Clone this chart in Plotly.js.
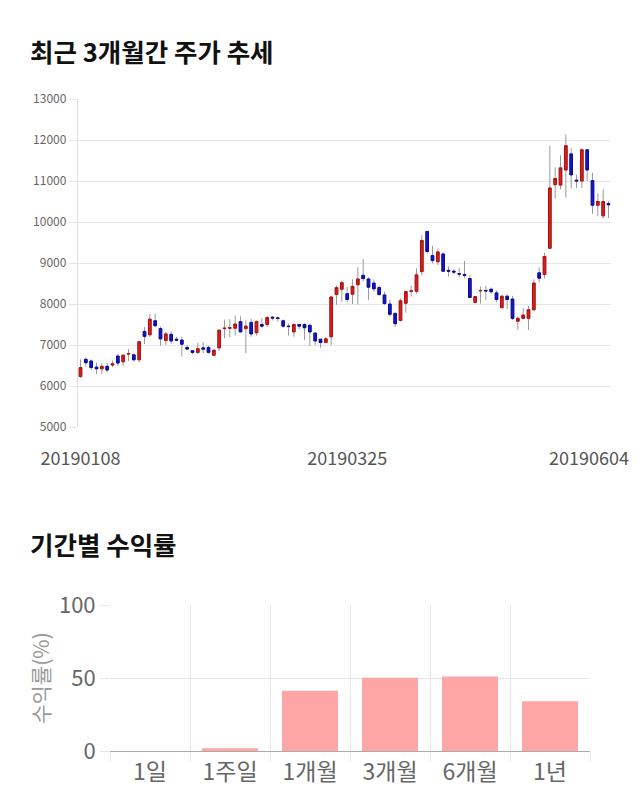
<!DOCTYPE html>
<html>
<head>
<meta charset="utf-8">
<script src="https://cdn.plot.ly/plotly-3.0.1.min.js"></script>
<style>html,body{margin:0;padding:0;background:#fff}#chart{width:640px;height:810px}</style>
</head>
<body>
<div id="chart"></div>
<script>
const dates = ['20190108','20190109','20190110','20190111','20190114','20190115','20190116','20190117','20190118','20190121','20190122','20190123','20190124','20190125','20190128','20190129','20190130','20190131',
'20190201','20190207','20190208','20190211','20190212','20190213','20190214','20190215','20190218','20190219','20190220','20190221','20190222','20190225','20190226','20190227','20190228',
'20190304','20190305','20190306','20190307','20190308','20190311','20190312','20190313','20190314','20190315','20190318','20190319','20190320','20190321','20190322','20190325','20190326','20190327','20190328','20190329',
'20190401','20190402','20190403','20190404','20190405','20190408','20190409','20190410','20190411','20190412','20190415','20190416','20190417','20190418','20190419','20190422','20190423','20190424','20190425','20190426','20190429','20190430',
'20190502','20190503','20190507','20190508','20190509','20190510','20190513','20190514','20190515','20190516','20190517','20190520','20190521','20190522','20190523','20190524','20190527','20190528','20190529','20190530','20190531',
'20190603','20190604'];

const openP = [6230,6650,6610,6460,6420,6480,6510,6730,6590,6780,6760,6640,7330,7250,7590,7400,7110,7260,7140,7120,
6940,6860,6820,6930,6940,6750,6930,7400,7410,7410,7570,7400,7550,7300,7500,7500,7680,7660,7590,7460,
7320,7500,7500,7480,7290,7140,7060,7200,8230,8360,8250,8240,8470,8700,8610,8510,8400,8220,8000,7770,
7600,8020,8310,8310,8790,9770,9180,9030,9220,8820,8800,8740,8720,8620,8040,8320,8330,8360,8270,7910,
8190,8120,7580,7650,7650,7860,8760,8720,9360,10910,10900,11270,11660,11020,11000,11760,11010,10410,10150,10450];
const highP = [6650,6700,6650,6570,6550,6560,6620,6780,6770,6900,6790,7100,7440,7760,7770,7450,7320,7330,7200,7200,
7000,6880,7060,7070,6980,6900,7380,7620,7630,7720,7700,7600,7640,7600,7660,7700,7700,7700,7620,7520,
7530,7520,7530,7520,7300,7150,7200,8200,8450,8570,8420,8600,8900,9100,8650,8600,8450,8300,8100,7800,
8130,8320,8450,8870,9680,9780,9420,9350,9260,8920,8850,8880,9050,8700,8200,8420,8440,8400,8330,8210,
8230,8200,7700,7900,7950,8600,8900,9250,11860,11330,11630,12140,11800,11150,11800,11770,11200,10700,10800,10500];
const lowP = [6200,6480,6380,6290,6300,6330,6460,6490,6490,6610,6600,6570,7020,7200,7430,6980,7000,7030,7090,6720,
6880,6780,6780,6800,6790,6740,6850,7160,7190,7230,7330,6800,7200,7230,7420,7440,7600,7570,7420,7230,
7200,7380,7120,6980,7000,6930,7050,7000,7980,8050,8050,8000,7990,8550,8100,8300,8200,7980,7700,7440,
7570,7790,8180,8250,8700,9230,8990,8950,8780,8670,8720,8650,8630,8140,8010,8010,8100,8250,8050,7900,
7880,7610,7370,7620,7370,7830,8530,8620,9350,10570,10800,10600,10820,10830,10830,11000,10200,10140,10080,10100];
const closeP = [6450,6570,6450,6420,6480,6390,6540,6560,6750,6790,6640,7080,7210,7630,7470,7150,7270,7100,7120,7020,
6900,6820,6910,6900,6820,6870,7360,7410,7420,7510,7320,7460,7270,7570,7460,7670,7660,7650,7460,7450,
7500,7460,7420,7320,7100,7060,7150,8170,8400,8520,8110,8430,8610,8620,8410,8370,8230,8010,7750,7520,
8080,8300,8320,8710,9550,9280,9060,9270,8800,8800,8780,8730,8700,8160,8180,8330,8320,8300,8110,8190,
8110,7650,7650,7730,7860,8510,8630,9160,10830,11060,11320,11860,11150,11000,11760,11270,10410,10500,10500,10420];

const priceTicks = [5000,6000,7000,8000,9000,10000,11000,12000,13000];
const dateTicks = ['20190108','20190325'];
const lastDateLabel = '20190604';

const periods = ['1일','1주일','1개월','3개월','6개월','1년'];
const returns = [0, 1.8, 41.3, 50.2, 51.1, 34.0];
const returnTicks = [0,50,100];

const bodyHigh = openP.map((o,i)=>Math.max(o,closeP[i]));
const bodyLow = openP.map((o,i)=>Math.min(o,closeP[i]));

const wickColor = '#9a9a9a';
const traces = [
  {type:'candlestick', x:dates, open:openP, high:highP, low:lowP, close:closeP,
   xaxis:'x', yaxis:'y', hoverinfo:'skip', showlegend:false,
   increasing:{line:{color:wickColor,width:1}, fillcolor:wickColor},
   decreasing:{line:{color:wickColor,width:1}, fillcolor:wickColor}},
  {type:'candlestick', x:dates, open:openP, high:bodyHigh, low:bodyLow, close:closeP,
   xaxis:'x', yaxis:'y', hoverinfo:'skip', showlegend:false,
   increasing:{line:{color:'#b40f0f',width:1}, fillcolor:'#d81e1e'},
   decreasing:{line:{color:'#0a0aa0',width:1}, fillcolor:'#1616cc'}},
  {type:'bar', x:periods, y:returns, xaxis:'x2', yaxis:'y2', width:0.7, showlegend:false,
   marker:{color:'#fea5a5', line:{width:0}}, hoverinfo:'skip'}
];

const W=640, H=810;
const s = (608.5-80.5)/99;
const xl = 80.5 - 0.5*s, xr = 80.5 + 99.4*s;

const layout = {
  width:W, height:H, margin:{l:0,r:0,t:0,b:0},
  paper_bgcolor:'#fff', plot_bgcolor:'#fff',
  font:{family:'"Noto Sans CJK KR", "Noto Sans", sans-serif', color:'#666'},
  showlegend:false,
  xaxis:{type:'category', domain:[xl/W, xr/W], range:[-0.5, 99.4], anchor:'y',
    rangeslider:{visible:false}, showgrid:false, zeroline:false, showline:false,
    tickmode:'array', tickvals:dateTicks, ticktext:dateTicks, ticks:'',
    tickfont:{size:18, color:'#555'}, ticklabelstandoff:19, fixedrange:true},
  yaxis:{domain:[1-427/H, 1-99/H], range:[5000,13000], anchor:'x',
    tickmode:'array', tickvals:priceTicks, ticktext:priceTicks.map(String),
    showgrid:true, gridcolor:'#e6e6e6', zeroline:false,
    showline:true, linecolor:'#e0e0e0', ticks:'outside', ticklen:8, tickcolor:'#e6e6e6',
    tickfont:{size:12, color:'#666'}, fixedrange:true},
  xaxis2:{type:'category', domain:[110/W, 590/W], anchor:'y2',
    tickson:'boundaries', showgrid:true, gridcolor:'#e6e6e6',
    ticks:'outside', ticklen:9, tickcolor:'#e6e6e6',
    showline:true, linecolor:'#aaaaaa', zeroline:false,
    tickfont:{size:23, color:'#666'}, fixedrange:true},
  yaxis2:{domain:[1-751/H, 1-605/H], range:[0,100], anchor:'x2',
    tickmode:'array', tickvals:returnTicks, ticktext:returnTicks.map(String),
    showgrid:true, gridcolor:'#e6e6e6', zeroline:false, showline:false,
    ticks:'outside', ticklen:9, tickcolor:'#e6e6e6',
    tickfont:{size:22, color:'#666'},
    title:{text:'수익률(%)', font:{size:21, color:'#999'}, standoff:3}, fixedrange:true},
  annotations:[
    {text:'<b>최근 3개월간 주가 추세</b>', xref:'paper', yref:'paper', x:28/W, y:1-50/H,
     xanchor:'left', yanchor:'middle', showarrow:false, font:{size:25.5, color:'#111'}},
    {text:'<b>기간별 수익률</b>', xref:'paper', yref:'paper', x:28/W, y:1-543/H,
     xanchor:'left', yanchor:'middle', showarrow:false, font:{size:25.5, color:'#111'}},
    {text:lastDateLabel, xref:'x', yref:'paper', x:dates.indexOf(lastDateLabel), y:1-457/H,
     xanchor:'right', yanchor:'middle', xshift:22, showarrow:false, font:{size:18, color:'#555'}}
  ]
};

Plotly.newPlot('chart', traces, layout, {staticPlot:true, displayModeBar:false});
</script>
</body>
</html>
